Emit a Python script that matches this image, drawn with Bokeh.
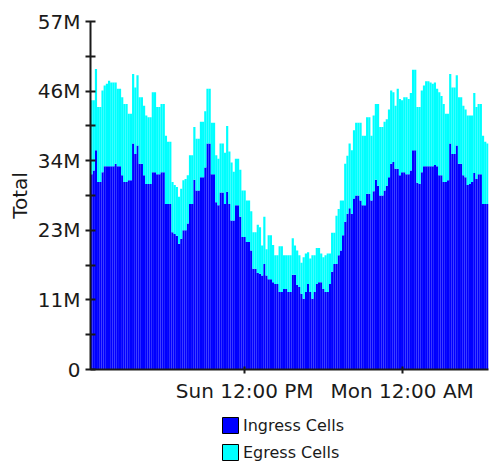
import pandas as pd
from bokeh.plotting import figure
from bokeh.layouts import column
from bokeh.models import (ColumnDataSource, Range1d, FixedTicker,
                          CustomJSTickFormatter, Legend, LegendItem)
from bokeh.embed import file_html
from bokeh.resources import INLINE

# ---- data (millions of cells per 10-minute interval) ----
ingress_m = [
    32.0, 32.6, 35.9, 30.7, 30.7, 32.3, 33.3, 33.3, 33.3, 33.3,
    33.3, 33.7, 33.3, 33.3, 31.8, 30.7, 30.7, 31.0, 31.0, 37.0,
    35.3, 36.7, 33.7, 33.7, 31.8, 30.4, 30.4, 30.4, 32.3, 32.3,
    32.0, 32.0, 32.3, 32.3, 27.1, 27.1, 27.1, 22.5, 22.2, 21.9,
    20.6, 21.4, 22.8, 22.8, 23.9, 27.1, 27.1, 31.1, 29.3, 29.3,
    31.5, 31.5, 33.1, 37.0, 37.0, 32.0, 32.0, 27.4, 26.9, 29.0,
    29.0, 27.1, 29.1, 27.1, 24.4, 24.4, 26.9, 26.9, 25.0, 21.7,
    21.7, 20.9, 20.9, 19.5, 16.5, 16.5, 15.8, 15.7, 15.4, 17.3,
    15.4, 14.8, 14.8, 14.3, 14.0, 14.0, 12.7, 12.7, 13.2, 13.2,
    12.7, 12.7, 15.5, 15.5, 13.9, 13.5, 12.4, 11.6, 12.7, 14.0,
    12.7, 11.6, 12.7, 14.0, 14.3, 14.3, 13.2, 12.7, 12.7, 14.0,
    16.0, 17.3, 17.3, 18.7, 19.5, 22.0, 24.2, 25.5, 26.4, 25.5,
    28.0, 28.5, 28.5, 27.7, 26.9, 26.9, 28.8, 28.8, 27.7, 29.2,
    31.1, 30.1, 28.5, 28.5, 29.3, 30.1, 31.5, 33.7, 34.0, 32.9,
    32.9, 31.8, 32.3, 32.3, 32.0, 32.0, 32.6, 35.9, 35.9, 30.6,
    30.4, 32.3, 33.3, 33.3, 33.3, 33.3, 33.3, 33.5, 33.3, 31.8,
    31.8, 30.7, 30.7, 31.0, 37.0, 35.3, 35.3, 36.7, 33.7, 33.7,
    31.8, 31.5, 30.2, 30.4, 30.7, 32.2, 31.2, 32.0, 32.0, 27.1,
    27.1, 27.1,
]
egress_m = [
    12.1, 11.5, 13.3, 12.3, 12.3, 13.4, 13.2, 13.5, 14.0, 13.7,
    13.7, 13.3, 12.7, 12.7, 12.8, 12.8, 12.8, 10.9, 10.9, 11.4,
    10.9, 11.5, 10.9, 10.9, 11.4, 11.2, 10.9, 10.9, 13.1, 13.1,
    11.0, 11.0, 11.2, 11.2, 11.2, 10.2, 10.2, 8.2, 8.0, 8.0,
    7.7, 8.2, 8.2, 8.4, 7.9, 8.0, 8.0, 8.6, 8.5, 8.5,
    9.1, 9.1, 9.2, 9.0, 9.0, 8.4, 8.4, 7.7, 7.6, 8.0,
    8.0, 8.4, 10.8, 8.6, 9.5, 8.0, 7.6, 7.6, 7.7, 7.6,
    7.6, 6.8, 6.8, 6.4, 6.0, 6.0, 7.9, 7.6, 4.9, 7.7,
    4.3, 7.2, 7.2, 6.1, 4.7, 4.7, 7.5, 7.5, 5.5, 5.5,
    6.0, 6.0, 6.0, 4.8, 5.6, 5.2, 5.1, 6.8, 6.3, 5.2,
    5.5, 7.1, 6.0, 5.9, 5.6, 4.7, 5.2, 6.0, 6.3, 5.0,
    6.4, 5.1, 7.9, 7.6, 8.2, 5.7, 9.5, 9.5, 10.6, 10.4,
    11.2, 11.9, 11.9, 12.7, 11.4, 11.4, 12.5, 12.5, 10.6, 12.4,
    12.4, 13.4, 11.2, 11.2, 11.3, 10.9, 11.1, 12.0, 11.4, 10.3,
    13.1, 12.5, 11.8, 12.3, 12.6, 12.3, 12.7, 13.2, 13.2, 12.4,
    12.6, 13.4, 13.2, 13.9, 13.9, 13.7, 13.5, 13.5, 12.7, 13.6,
    13.0, 12.8, 11.2, 10.9, 11.4, 10.9, 10.9, 11.5, 10.9, 10.9,
    11.4, 11.1, 11.4, 11.2, 10.9, 13.1, 11.8, 11.5, 11.5, 11.2,
    10.2, 9.9,
]
series_names = ["Ingress Cells", "Egress Cells"]
series_colors = ["#0000FF", "#00FFFF"]
first_bar = "2023-01-01 00:20"      # a Sunday
bar_minutes = 10
x_tick_times = ["2023-01-01 12:00", "2023-01-02 00:00"]
x_tick_labels = ["Sun 12:00 PM", "Mon 12:00 AM"]
y_ticks = [0.0, 11.4, 22.8, 34.2, 45.6, 57.0]
y_minor_ticks = [5.7, 17.1, 28.5, 39.9, 51.3]
y_tick_labels = ["0", "11M", "23M", "34M", "46M", "57M"]
y_title = "Total"

assert len(ingress_m) == len(egress_m)

NS_PER_MS = 1e6
times = pd.date_range(first_bar, periods=len(ingress_m), freq=f"{bar_minutes}min")
x_ms = (times.asi8 / NS_PER_MS).tolist()
bar_ms = bar_minutes * 60 * 1000
x_tick_ms = [pd.Timestamp(t).value / NS_PER_MS for t in x_tick_times]

src = ColumnDataSource(dict(t=x_ms, ingress=ingress_m, egress=egress_m))

FONT = "DejaVu Sans"
INK = "#1a1a1a"

# ---------------- main chart ----------------
p = figure(frame_width=398, frame_height=348, output_backend="svg",
           toolbar_location=None,
           x_range=Range1d(x_ms[0] - bar_ms / 2, x_ms[-1] + bar_ms / 2),
           y_range=Range1d(0, y_ticks[-1]),
           min_border_left=90, min_border_right=2, min_border_top=21,
           min_border_bottom=45)
p.xgrid.visible = False
p.ygrid.visible = False
p.outline_line_color = None
p.background_fill_color = "white"
p.border_fill_color = "white"

p.vbar_stack(["ingress", "egress"], x="t", width=bar_ms, source=src,
             fill_color=series_colors, line_color=None)

fmt_code = "const i = tv.indexOf(tick); return i >= 0 ? tl[i] : '';"

xa = p.xaxis[0]
xa.ticker = FixedTicker(ticks=x_tick_ms)
xa.formatter = CustomJSTickFormatter(args=dict(tv=x_tick_ms, tl=x_tick_labels),
                                     code=fmt_code)
xa.major_tick_in = 3
xa.major_tick_out = 4
xa.major_tick_line_width = 2
xa.major_tick_line_color = INK
xa.minor_tick_line_color = None
xa.axis_line_width = 2
xa.axis_line_color = INK
xa.major_label_standoff = 5
xa.major_label_text_font = FONT
xa.major_label_text_font_size = "20px"
xa.major_label_text_color = INK

ya = p.yaxis[0]
ya.ticker = FixedTicker(ticks=y_ticks, minor_ticks=y_minor_ticks)
ya.formatter = CustomJSTickFormatter(args=dict(tv=y_ticks, tl=y_tick_labels),
                                     code=fmt_code)
ya.major_tick_in = 5
ya.major_tick_out = 5
ya.minor_tick_in = 5
ya.minor_tick_out = 5
ya.major_tick_line_width = 2
ya.minor_tick_line_width = 2
ya.major_tick_line_color = INK
ya.minor_tick_line_color = INK
ya.axis_line_width = 2
ya.axis_line_color = INK
ya.major_label_standoff = 5
ya.major_label_text_font = FONT
ya.major_label_text_font_size = "20px"
ya.major_label_text_color = INK
ya.axis_label = y_title
ya.axis_label_text_font = FONT
ya.axis_label_text_font_size = "20px"
ya.axis_label_text_font_style = "normal"
ya.axis_label_text_color = INK
ya.axis_label_standoff = 3

# ---------------- legend strip under the chart ----------------
leg = figure(width=490, height=52, output_backend="svg", toolbar_location=None,
             x_range=Range1d(0, 1), y_range=Range1d(0, 1),
             x_axis_location=None, y_axis_location=None, min_border=0)
leg.xgrid.visible = False
leg.ygrid.visible = False
leg.outline_line_color = None
leg.background_fill_color = "white"
leg.border_fill_color = "white"

swatch_src = ColumnDataSource(dict(x=[0.0], top=[0.0]))   # zero-size proxies
items = []
for name, col in zip(series_names, series_colors):
    r = leg.vbar(x="x", top="top", width=0, source=swatch_src,
                 fill_color=col, line_color="black", line_width=1)
    items.append(LegendItem(label=name, renderers=[r]))
# the column aligns this strip's frame with the chart frame (x offset 90)
legend = Legend(items=items, location=(130, 4), orientation="vertical",
                padding=0, spacing=7, margin=0, glyph_width=20, glyph_height=20,
                label_standoff=3, label_text_font=FONT,
                label_text_font_size="16px", label_text_color=INK,
                border_line_color=None, background_fill_alpha=0)
leg.add_layout(legend)

page = column(p, leg, spacing=0)
open("out.html", "w").write(file_html(page, INLINE))
